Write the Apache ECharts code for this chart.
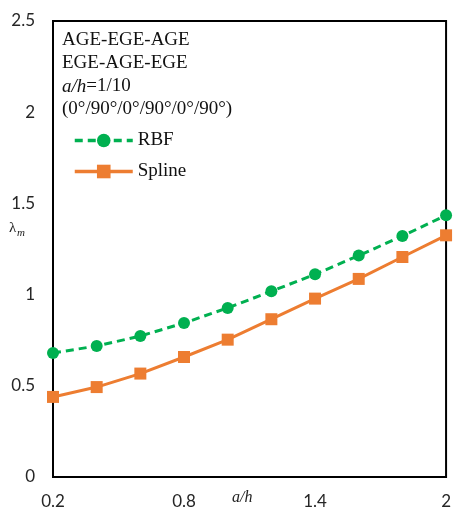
<!DOCTYPE html>
<html>
<head>
<meta charset="utf-8">
<style>
  html, body { margin: 0; padding: 0; background: #fff; }
  #chart { width: 454px; height: 511px; }
</style>
<script src="https://cdn.jsdelivr.net/npm/echarts@6/dist/echarts.min.js"></script>
</head>
<body>
<div id="chart"></div>
<script>
// a/h values along the x axis
const ratios = [0.2, 0.4, 0.6, 0.8, 1.0, 1.2, 1.4, 1.6, 1.8, 2.0];
// dimensionless frequency parameter for each method
const rbfValues    = [0.680, 0.718, 0.773, 0.844, 0.927, 1.018, 1.111, 1.214, 1.321, 1.435];
const splineValues = [0.439, 0.493, 0.567, 0.658, 0.753, 0.865, 0.978, 1.086, 1.206, 1.325];
// labelled ticks on the x axis
const xTickLabels = [0.2, 0.8, 1.4, 2];

const serif = '"Liberation Serif", "DejaVu Serif", serif';
const sans = 'Lato, "Open Sans", sans-serif';

const chart = echarts.init(document.getElementById('chart'), null, { renderer: 'canvas' });

chart.setOption({
  animation: false,
  backgroundColor: '#ffffff',
  grid: {
    left: 53, right: 2, top: 21, bottom: 34,
    show: true, borderColor: '#000', borderWidth: 2, backgroundColor: 'transparent'
  },
  xAxis: {
    type: 'value',
    min: 0.2, max: 2,
    axisLine: { show: true, lineStyle: { color: '#000', width: 2 } },
    axisTick: { show: false },
    splitLine: { show: false },
    axisLabel: {
      customValues: xTickLabels,
      margin: 16,
      color: '#262626', fontFamily: sans, fontSize: 17
    }
  },
  yAxis: {
    type: 'value',
    min: 0, max: 2.5, interval: 0.5,
    axisLine: { show: true, lineStyle: { color: '#000', width: 2 } },
    axisTick: { show: false },
    splitLine: { show: false },
    axisLabel: { margin: 18, color: '#262626', fontFamily: sans, fontSize: 17 }
  },
  legend: {
    orient: 'vertical',
    left: 68, top: 126,
    itemWidth: 58, itemHeight: 17, itemGap: 12,
    lineStyle: { width: 3.5 },
    textStyle: { fontFamily: serif, fontSize: 19, color: '#111' },
    data: ['RBF', 'Spline']
  },
  graphic: [
    {
      type: 'text', left: 62, top: 29,
      style: {
        text: 'AGE-EGE-AGE\nEGE-AGE-EGE\n{i|a/h}=1/10\n(0°/90°/0°/90°/0°/90°)',
        fontFamily: serif, fontSize: 19, lineHeight: 23, fill: '#111',
        rich: { i: { fontFamily: serif, fontSize: 19, fontStyle: 'italic', fill: '#111' } }
      }
    },
    {
      type: 'text', left: 9, top: 221,
      style: { text: 'λ', fontFamily: serif, fontSize: 15, fill: '#222' }
    },
    {
      type: 'text', left: 17, top: 228,
      style: { text: 'm', fontFamily: serif, fontSize: 11, fontStyle: 'italic', fill: '#222' }
    },
    {
      type: 'text', left: 232, top: 490,
      style: { text: 'a/h', fontFamily: serif, fontSize: 16, fontStyle: 'italic', fill: '#222' }
    }
  ],
  series: [
    {
      name: 'RBF',
      type: 'line',
      data: ratios.map((r, i) => [r, rbfValues[i]]),
      symbol: 'circle', symbolSize: 12,
      itemStyle: { color: '#00B050' },
      lineStyle: { color: '#00B050', width: 3, type: [8, 5] },
      z: 3
    },
    {
      name: 'Spline',
      type: 'line',
      data: ratios.map((r, i) => [r, splineValues[i]]),
      symbol: 'rect', symbolSize: 12,
      itemStyle: { color: '#ED7D31' },
      lineStyle: { color: '#ED7D31', width: 3, type: 'solid' },
      z: 2
    }
  ]
});
</script>
</body>
</html>
